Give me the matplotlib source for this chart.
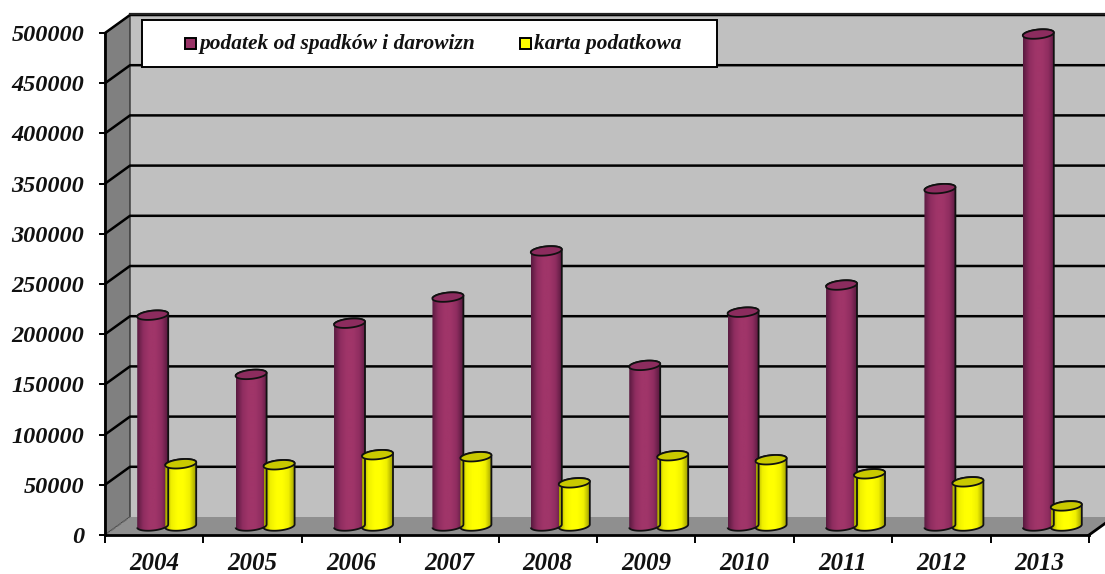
import numpy as np
import matplotlib
matplotlib.use("Agg")
import matplotlib.pyplot as plt
from matplotlib.colors import LinearSegmentedColormap
from matplotlib.patches import PathPatch, Polygon, Rectangle
from matplotlib.path import Path

years = ["2004", "2005", "2006", "2007", "2008", "2009", "2010", "2011", "2012", "2013"]
spadki = [210000, 151000, 202000, 228000, 274000, 160000, 213000, 240000, 336000, 490000]
karta = [62000, 61000, 71000, 69000, 43000, 70000, 66000, 52000, 44000, 20000]
y_ticks = [0, 50000, 100000, 150000, 200000, 250000, 300000, 350000, 400000, 450000, 500000]
legend_labels = ["podatek od spadków i darowizn", "karta podatkowa"]

W, H = 1105, 574
LEFT, RIGHT, TOP, BOTTOM = 105, 1089, 33, 535
DX = 25 / 98.4      # depth of the 3d box in category units
DY = 18 * 500000 / (BOTTOM - TOP)      # same in value units
PX_Y = 500000 / (BOTTOM - TOP)
BAR_W = 31 / 98.4
FONT = dict(family="Liberation Serif", weight="bold", style="italic", color="#111111")


def draw_cylinder(ax, x, value, colors, top_color):
    # ellipse outline, slightly tilted like the Excel 3d view
    t = np.linspace(0, 2 * np.pi, 81)
    ex = BAR_W / 2 * np.cos(t)
    ey = (4.5 * np.sin(t) + 1.5 * np.cos(t)) * PX_Y

    base = DY / 2
    top = value + DY / 2
    lower = t >= np.pi
    xs = np.concatenate([x + ex[lower], x + ex[~lower][t[~lower] <= np.pi]])
    ys = np.concatenate([base + ey[lower], top + ey[~lower][t[~lower] <= np.pi]])
    body = PathPatch(Path(np.column_stack([xs, ys]), closed=False), facecolor="none",
                     edgecolor="#111111", lw=1.3, zorder=5, clip_on=False)
    ax.add_patch(body)

    cmap = LinearSegmentedColormap.from_list("cyl", colors)
    img = ax.imshow(np.linspace(0, 1, 64).reshape(1, -1), cmap=cmap, aspect="auto",
                    extent=(x - BAR_W / 2, x + BAR_W / 2, base - 6 * PX_Y, top + 6 * PX_Y),
                    zorder=4.9)
    img.set_clip_path(Polygon(np.column_stack([xs, ys]), transform=ax.transData))

    ax.add_patch(Polygon(np.column_stack([x + ex, top + ey]), closed=True, facecolor=top_color,
                         edgecolor="#111111", lw=1.3, zorder=5.1, clip_on=False))


def main():
    fig = plt.figure(figsize=(W / 100, H / 100), dpi=100)
    ax = fig.add_axes([LEFT / W, 1 - BOTTOM / H, (RIGHT - LEFT) / W, (BOTTOM - TOP) / H])

    # box walls
    ax.add_patch(Polygon([(DX, DY), (10 + DX, DY), (10 + DX, 500000 + DY), (DX, 500000 + DY)],
                         facecolor="#C0C0C0", edgecolor="none", clip_on=False, zorder=1))
    ax.add_patch(Polygon([(0, 0), (DX, DY), (DX, 500000 + DY), (0, 500000)],
                         facecolor="#808080", edgecolor="#333333", lw=1, clip_on=False, zorder=1))
    ax.add_patch(Polygon([(0, 0), (10, 0), (10 + DX, DY), (DX, DY)],
                         facecolor="#8F8F8F", edgecolor="none", clip_on=False, zorder=1.1))
    ax.plot([10, 10 + DX], [0, DY], color="black", lw=2, clip_on=False, zorder=1.2)
    ax.plot([0, DX], [0, DY], color="#666666", lw=1, ls="--", clip_on=False, zorder=1.2)

    for v in y_ticks[1:]:
        ax.plot([0, DX, 10 + DX], [v, v + DY, v + DY], color="black", lw=1.8,
                clip_on=False, zorder=2)

    spadki_colors = ["#5A1A40", "#8F2D60", "#A03569", "#A03569", "#8F2D60", "#5A1A40"]
    karta_colors = ["#A0A000", "#F0F000", "#FFFF00", "#FFFF00", "#F0F000", "#A0A000"]
    for i in range(len(years)):
        cx = i + 0.5 + DX / 2
        draw_cylinder(ax, cx - 14 / 98.4, spadki[i], spadki_colors, "#8C2C5E")
        draw_cylinder(ax, cx + 14 / 98.4, karta[i], karta_colors, "#C9C900")

    ax.set_xlim(0, 10)
    ax.set_ylim(0, 500000)

    ax.set_yticks(y_ticks)
    ax.set_yticklabels([str(v) for v in y_ticks], **FONT, fontsize=17.5)
    ax.set_xticks(range(11))
    ax.set_xticklabels([])
    ax.set_xticks(np.arange(10) + 0.5, labels=years, minor=True, **FONT, fontsize=18)
    ax.tick_params(axis="y", length=4.5, width=1.4, pad=10.5)
    ax.tick_params(axis="x", which="major", length=6, width=1.4)
    ax.tick_params(axis="x", which="minor", length=0, pad=12)

    for name in ["top", "right"]:
        ax.spines[name].set_visible(False)
    for name in ["left", "bottom"]:
        ax.spines[name].set_linewidth(2)
        ax.spines[name].set_zorder(6)

    # legend box, placed in pixel coordinates on a overlay
    over = fig.add_axes([0, 0, 1, 1], zorder=10)
    over.set_xlim(0, W)
    over.set_ylim(H, 0)
    over.axis("off")
    over.patch.set_visible(False)
    over.plot([130, 1105], [14, 14], color="#222222", lw=1.6)
    over.add_patch(Rectangle((142, 20), 575, 47, facecolor="white", edgecolor="black", lw=1.4))
    over.add_patch(Rectangle((185, 38), 11, 11, facecolor="#993366", edgecolor="black", lw=1.4))
    over.add_patch(Rectangle((520, 38), 11, 11, facecolor="#FFFF00", edgecolor="black", lw=1.4))
    over.text(200, 44, legend_labels[0], va="center", fontsize=15.4, **FONT)
    over.text(534, 44, legend_labels[1], va="center", fontsize=15.4, **FONT)

    fig.savefig("out.png", dpi=100, facecolor="white")


if __name__ == "__main__":
    main()
